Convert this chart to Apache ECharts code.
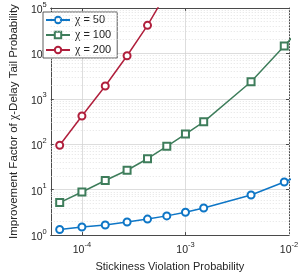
<!DOCTYPE html>
<html><head><meta charset="utf-8">
<script src="https://cdn.jsdelivr.net/npm/echarts@6/dist/echarts.min.js"></script>
<style>html,body{margin:0;padding:0;background:#fff}#c{width:305px;height:277px}</style>
</head><body><div id="c"></div>
<script>
// Data
var xValues = [6.1e-5, 1e-4, 1.68e-4, 2.73e-4, 4.3e-4, 6.6e-4, 1e-3, 1.5e-3, 4.3e-3, 9e-3, 1.2e-2];
var chi50  = [1.33, 1.51, 1.67, 1.94, 2.25, 2.65, 3.18, 3.95, 7.65, 14.8, 19.5];
var chi100 = [5.2, 8.9, 15.9, 26.8, 48, 90, 168, 312, 2380, 14650, 30000];
var chi200 = [95, 420, 1920, 8900, 41500, 220000, null, null, null, null, null];
var seriesNames = ['χ = 50', 'χ = 100', 'χ = 200'];

var colors = ['#0e76c6', '#3e7d5b', '#b01f3c'];
var axisColor = '#4a4a4a';
var font = 'Liberation Sans, Arial, Helvetica, sans-serif';
var serif = 'Liberation Serif, Times New Roman, serif';

function pairs(ys){ return xValues.map(function(x,i){ return [x, ys[i]]; }); }

function powLabel(v){
  var e = Math.log10(v), r = Math.round(e);
  if (Math.abs(e - r) > 1e-6) return '';
  return '{b|10}{s|' + r + '}';
}
var richPow = {
  b: {fontSize: 10.5, fontFamily: font, color: '#262626', verticalAlign: 'bottom', lineHeight: 15},
  s: {fontSize: 7.5, fontFamily: font, color: '#262626', verticalAlign: 'top', lineHeight: 15}
};

// minor grid positions (2..9 within each decade)
var minorX = [], minorY = [];
for (var e = -5; e <= -3; e++) for (var m = 2; m <= 9; m++) { var v = m * Math.pow(10, e); if (v > 5e-5 && v < 1e-2) minorX.push(v); }
for (var e2 = 0; e2 <= 4; e2++) for (var m2 = 2; m2 <= 9; m2++) minorY.push(m2 * Math.pow(10, e2));

var markData = minorX.map(function(v){ return {xAxis: v}; }).concat(minorY.map(function(v){ return {yAxis: v}; }));

function mkSeries(name, ys, color, sym){
  return {
    name: name, type: 'line', data: pairs(ys), xAxisIndex: 0, yAxisIndex: 0,
    symbol: sym, symbolSize: 7, showSymbol: true, clip: true, connectNulls: false,
    lineStyle: {color: color, width: 1.5},
    itemStyle: {color: color, borderColor: color, borderWidth: 1.5},
    z: 5
  };
}

var chart = echarts.init(document.getElementById('c'));
chart.setOption({
  animation: false,
  backgroundColor: '#fff',
  grid: {left: 42, right: 16, top: 8, bottom: 37, containLabel: false},
  legend: {
    data: seriesNames, orient: 'vertical', left: 43, top: 12,
    backgroundColor: '#fff', borderColor: '#333', borderWidth: 0.8, padding: [2, 6, 2, 2],
    itemWidth: 24, itemHeight: 8, itemGap: 3,
    textStyle: {fontFamily: font, fontSize: 11, color: '#222',
      rich: {c: {fontFamily: serif, fontSize: 12, color: '#222'}}},
    formatter: function(n){ return n.replace('χ', '{c|χ}'); }
  },
  xAxis: [{
    type: 'log', logBase: 10, min: 5e-5, max: 1e-2, position: 'bottom',
    name: 'Stickiness Violation Probability', nameLocation: 'middle', nameGap: 22,
    nameTextStyle: {fontFamily: font, fontSize: 11, color: '#262626'},
    axisLine: {show: true, lineStyle: {color: axisColor, width: 1}},
    axisTick: {show: true, inside: true, length: 3, lineStyle: {color: axisColor}},
    axisLabel: {formatter: powLabel, rich: richPow, margin: 6},
    splitLine: {show: true, lineStyle: {color: '#d4d4d4', width: 0.8, type: 'solid'}}
  }, {
    type: 'log', logBase: 10, min: 5e-5, max: 1e-2, position: 'top',
    axisLine: {show: true, lineStyle: {color: axisColor, width: 1}},
    axisTick: {show: true, inside: true, length: 3, lineStyle: {color: axisColor}},
    axisLabel: {show: false}, splitLine: {show: false}
  }],
  yAxis: [{
    type: 'log', logBase: 10, min: 1, max: 1e5, position: 'left',
    name: 'Improvement Factor of {c|χ}-Delay Tail Probability', nameLocation: 'middle', nameGap: 30,
    nameTextStyle: {fontFamily: font, fontSize: 11.5, color: '#262626',
      rich: {c: {fontFamily: serif, fontSize: 12, color: '#262626'}}},
    axisLine: {show: true, lineStyle: {color: axisColor, width: 1}},
    axisTick: {show: true, inside: true, length: 3, lineStyle: {color: axisColor}},
    axisLabel: {formatter: powLabel, rich: richPow, margin: 4},
    splitLine: {show: true, lineStyle: {color: '#d4d4d4', width: 0.8, type: 'solid'}}
  }, {
    type: 'log', logBase: 10, min: 1, max: 1e5, position: 'right',
    axisLine: {show: true, lineStyle: {color: axisColor, width: 1}},
    axisTick: {show: true, inside: true, length: 3, lineStyle: {color: axisColor}},
    axisLabel: {show: false}, splitLine: {show: false}
  }],
  series: [
    mkSeries(seriesNames[0], chi50, colors[0], 'emptyCircle'),
    mkSeries(seriesNames[1], chi100, colors[1], 'emptyRect'),
    mkSeries(seriesNames[2], chi200, colors[2], 'emptyCircle'),
    {
      type: 'line', data: [], silent: true, xAxisIndex: 0, yAxisIndex: 0, z: 1,
      markLine: {silent: true, symbol: ['none', 'none'], label: {show: false},
        lineStyle: {color: '#dcdcdc', width: 0.8, type: [1, 2]}, data: markData, animation: false}
    }
  ]
});
</script></body></html>
